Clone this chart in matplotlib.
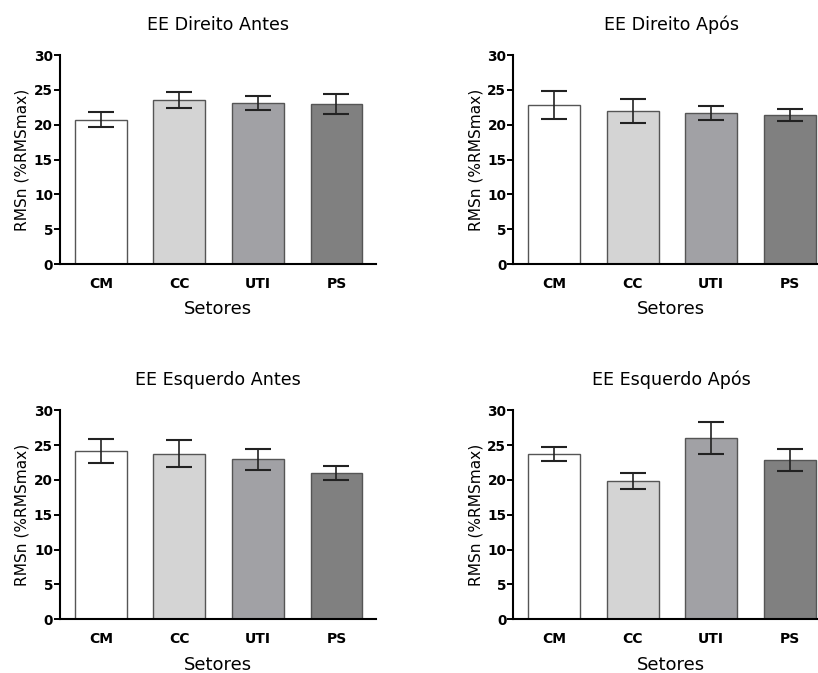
import matplotlib
matplotlib.use("Agg")
import matplotlib.pyplot as plt
import numpy as np

plt.rcParams['font.family'] = ['DejaVu Sans']

setores = ['CM', 'CC', 'UTI', 'PS']
cores = ['#ffffff', '#d4d4d4', '#a1a1a5', '#808080']

titulos = ['EE Direito Antes', 'EE Direito Após', 'EE Esquerdo Antes', 'EE Esquerdo Após']

dir_antes = [20.7, 23.6, 23.1, 23.0]
dir_antes_err = [1.1, 1.15, 1.0, 1.45]
dir_apos = [22.8, 22.0, 21.7, 21.4]
dir_apos_err = [2.0, 1.75, 1.0, 0.9]
esq_antes = [24.2, 23.8, 23.0, 21.0]
esq_antes_err = [1.7, 2.0, 1.5, 0.95]
esq_apos = [23.7, 19.8, 26.05, 22.85]
esq_apos_err = [1.0, 1.15, 2.3, 1.6]

medias = [dir_antes, dir_apos, esq_antes, esq_apos]
erros = [dir_antes_err, dir_apos_err, esq_antes_err, esq_apos_err]

fig = plt.figure(figsize=(8.18, 6.73), dpi=100)

# posições dos quatro paineis (fração da figura)
posicoes = [
    [0.0733, 0.6077, 0.386, 0.3105],
    [0.6275, 0.6077, 0.386, 0.3105],
    [0.0733, 0.0798, 0.386, 0.3105],
    [0.6275, 0.0798, 0.386, 0.3105],
]

x = np.arange(len(setores))
for i in range(4):
    ax = fig.add_axes(posicoes[i])
    ax.bar(x, medias[i], width=0.66, color=cores, edgecolor='#555555', linewidth=1.0, zorder=2)
    ax.errorbar(x, medias[i], yerr=erros[i], fmt='none', ecolor='#222222',
                elinewidth=1.2, capsize=9.5, capthick=1.5, zorder=3)
    ax.set_xlim(-0.52, 3.5)
    ax.set_ylim(0, 30)
    ax.set_yticks([0, 5, 10, 15, 20, 25, 30])
    ax.set_xticks(x)
    ax.set_xticklabels(setores, fontsize=10, fontweight='bold')
    for lab in ax.get_yticklabels():
        lab.set_fontweight('bold')
        lab.set_fontsize(9.8)
    ax.tick_params(axis='y', direction='out', length=4, width=1.4, pad=1)
    ax.tick_params(axis='x', length=0, pad=9)
    for s in ['top', 'right']:
        ax.spines[s].set_visible(False)
    for s in ['left', 'bottom']:
        ax.spines[s].set_linewidth(1.5)
    ax.set_title(titulos[i], fontsize=12.6, pad=18)
    ax.set_xlabel('Setores', fontsize=13, labelpad=7)
    ax.set_ylabel('RMSn (%RMSmax)', fontsize=11.1, labelpad=3)

fig.savefig('out.png', dpi=100)
